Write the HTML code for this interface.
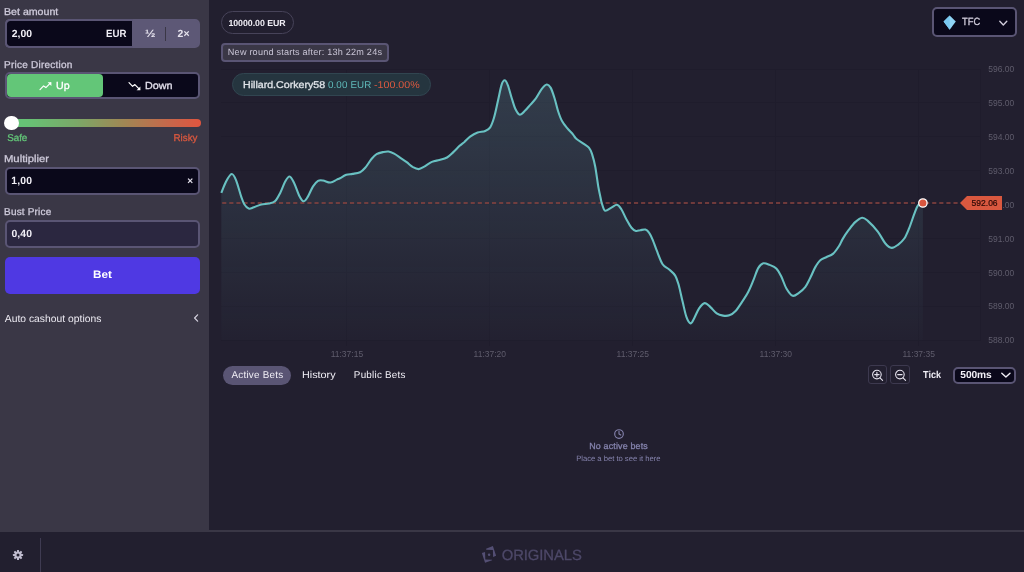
<!DOCTYPE html>
<html><head><meta charset="utf-8"><title>Originals</title>
<style>
*{box-sizing:border-box;margin:0;padding:0}
html,body{width:1024px;height:572px;overflow:hidden;background:#221f2f;font-family:"Liberation Sans",sans-serif;color:#fff}
.abs{position:absolute}
.t{position:absolute;white-space:nowrap;line-height:1;text-rendering:geometricPrecision}
.side{position:absolute;left:0;top:0;width:209px;height:532px;background:#3a3746}
.lbl{font-size:10.2px;color:#cfcbdb;font-weight:bold;letter-spacing:-0.15px}
.box{position:absolute;border:2px solid #5a5574;border-radius:5px;background:#0a081a}
.val{font-size:10.3px;font-weight:bold;color:#f1eff6}
.chart{position:absolute;left:0;top:0}
#wrap{position:absolute;left:0;top:0;width:1024px;height:572px;will-change:transform;filter:blur(0.35px)}
</style></head><body><div id="wrap">
<div class="side"></div>
<svg class="chart" width="1024" height="572" viewBox="0 0 1024 572">
<defs><linearGradient id="ag" x1="0" y1="69" x2="0" y2="340" gradientUnits="userSpaceOnUse">
<stop offset="0" stop-color="#78bec4" stop-opacity="0.2"/><stop offset="1" stop-color="#78bec4" stop-opacity="0.015"/></linearGradient></defs>
<g stroke="#1f1c2c" stroke-width="1" shape-rendering="crispEdges"><line x1="221" y1="69.0" x2="980.5" y2="69.0"/><line x1="221" y1="102.9" x2="980.5" y2="102.9"/><line x1="221" y1="136.8" x2="980.5" y2="136.8"/><line x1="221" y1="170.7" x2="980.5" y2="170.7"/><line x1="221" y1="204.6" x2="980.5" y2="204.6"/><line x1="221" y1="238.5" x2="980.5" y2="238.5"/><line x1="221" y1="272.4" x2="980.5" y2="272.4"/><line x1="221" y1="306.3" x2="980.5" y2="306.3"/><line x1="221" y1="340.2" x2="980.5" y2="340.2"/><line x1="346.9" y1="69" x2="346.9" y2="346"/><line x1="489.8" y1="69" x2="489.8" y2="346"/><line x1="632.8" y1="69" x2="632.8" y2="346"/><line x1="775.8" y1="69" x2="775.8" y2="346"/><line x1="918.7" y1="69" x2="918.7" y2="346"/><line x1="980.5" y1="69" x2="980.5" y2="340.2"/></g>
<path d="M221.3 192.9C222.1 191.0 224.4 184.7 226.1 181.5C227.8 178.3 230.0 174.2 231.7 174.0C233.4 173.8 234.5 176.5 236.1 180.3C237.7 184.1 239.8 192.6 241.2 196.6C242.6 200.6 243.1 202.2 244.3 204.2C245.6 206.2 247.1 208.1 248.7 208.6C250.3 209.1 251.7 208.0 253.8 207.3C255.9 206.6 258.8 205.0 261.3 204.4C263.8 203.8 266.6 204.2 268.9 203.6C271.2 203.0 273.3 202.8 275.2 201.0C277.1 199.2 278.5 196.2 280.2 192.9C281.9 189.7 283.6 184.2 285.2 181.5C286.8 178.8 288.1 176.3 289.6 176.5C291.1 176.7 292.4 179.7 294.0 182.8C295.6 186.0 297.5 192.3 299.1 195.4C300.7 198.5 302.0 201.1 303.5 201.3C305.0 201.5 306.3 199.1 307.9 196.6C309.5 194.1 311.2 189.2 312.9 186.6C314.6 184.0 316.3 181.9 318.0 180.9C319.7 179.9 320.9 180.2 323.0 180.5C325.1 180.8 328.2 182.7 330.5 182.5C332.8 182.3 335.2 180.3 336.8 179.6C338.4 178.9 338.4 179.0 340.0 178.2C341.6 177.4 344.2 175.5 346.3 174.8C348.4 174.1 350.3 174.3 352.6 173.9C354.9 173.5 358.0 173.2 360.1 172.2C362.2 171.2 363.3 170.0 365.2 167.8C367.1 165.6 369.6 161.3 371.5 159.0C373.4 156.7 374.6 155.3 376.5 154.2C378.4 153.0 380.8 152.5 382.8 152.1C384.8 151.7 386.6 151.2 388.5 151.5C390.4 151.8 392.1 152.6 394.1 153.7C396.1 154.8 398.3 156.4 400.4 157.8C402.5 159.2 404.6 160.6 406.7 162.2C408.8 163.8 411.0 166.0 413.0 167.2C415.0 168.3 416.8 169.2 418.7 169.1C420.6 169.0 422.1 167.8 424.3 166.6C426.5 165.4 429.4 163.0 431.9 161.9C434.4 160.8 436.9 160.7 439.4 160.0C441.9 159.3 444.7 158.8 447.0 157.5C449.3 156.2 451.2 154.0 453.3 152.1C455.4 150.2 457.8 147.5 459.6 145.8C461.5 144.1 462.6 143.5 464.4 142.0C466.1 140.5 467.9 138.3 470.1 136.7C472.3 135.1 475.1 133.5 477.6 132.6C480.1 131.7 483.1 131.9 485.2 131.0C487.3 130.1 488.7 129.5 490.2 127.3C491.7 125.1 492.7 122.1 494.0 117.8C495.3 113.5 496.6 107.0 497.8 101.5C499.1 96.0 500.4 88.6 501.5 85.1C502.6 81.6 503.6 80.3 504.7 80.3C505.8 80.3 506.6 82.2 507.8 85.1C509.0 88.0 510.3 93.7 511.6 97.7C512.9 101.7 514.0 106.2 515.4 109.0C516.8 111.8 518.1 114.5 519.8 114.7C521.5 114.9 523.6 112.0 525.4 110.3C527.2 108.6 528.8 106.5 530.5 104.6C532.2 102.7 533.6 101.5 535.5 98.9C537.4 96.3 539.9 91.3 541.8 88.9C543.7 86.5 545.3 84.7 546.8 84.5C548.3 84.3 549.3 85.4 550.6 87.6C551.9 89.8 553.1 93.7 554.4 97.7C555.7 101.7 556.9 107.6 558.2 111.5C559.5 115.4 560.5 118.3 562.0 121.0C563.5 123.7 565.1 125.6 567.0 127.9C568.9 130.2 571.8 133.0 573.3 134.8C574.8 136.6 574.5 137.3 576.3 138.8C578.0 140.3 581.7 142.3 583.8 143.8C585.9 145.3 587.5 145.9 588.9 147.6C590.3 149.3 591.0 150.8 592.0 153.9C593.0 157.1 594.2 161.1 595.2 166.5C596.2 171.9 597.4 181.4 598.3 186.6C599.2 191.8 599.9 194.6 600.5 197.5C601.1 200.4 601.2 201.6 602.0 203.8C602.8 206.0 603.5 210.1 605.1 210.7C606.7 211.3 609.4 208.6 611.4 207.6C613.4 206.6 615.4 204.5 617.1 204.8C618.8 205.1 619.9 207.1 621.5 209.5C623.1 211.9 624.8 216.5 626.5 219.5C628.2 222.5 629.9 225.8 631.5 227.7C633.1 229.6 634.4 230.5 635.9 230.9C637.4 231.3 638.7 230.4 640.3 230.2C641.9 230.0 643.9 229.2 645.4 229.6C646.9 230.0 648.0 231.0 649.2 232.8C650.5 234.6 651.6 237.4 652.9 240.3C654.1 243.2 655.1 246.4 656.7 250.4C658.3 254.4 660.6 261.2 662.6 264.3C664.6 267.4 666.8 267.4 668.9 269.3C671.0 271.2 673.5 272.9 675.2 275.6C676.9 278.3 677.6 281.3 678.9 285.7C680.1 290.1 681.4 296.9 682.7 302.1C684.0 307.4 685.2 313.6 686.5 317.2C687.8 320.8 689.2 323.2 690.5 323.4C691.8 323.6 692.7 320.9 694.1 318.4C695.5 315.9 697.3 310.9 699.1 308.3C700.9 305.8 702.9 303.3 704.8 303.1C706.7 302.9 708.4 305.4 710.4 307.1C712.4 308.8 714.6 312.0 716.7 313.4C718.8 314.8 720.9 315.3 723.0 315.6C725.1 315.9 727.2 316.1 729.3 315.3C731.4 314.5 733.5 313.1 735.6 310.9C737.7 308.7 739.8 305.2 741.9 302.1C744.0 299.0 746.3 295.6 748.2 292.0C750.1 288.4 751.5 284.7 753.2 280.7C754.9 276.7 756.5 271.0 758.2 268.1C759.9 265.2 761.4 263.8 763.3 263.3C765.2 262.8 767.4 264.0 769.6 264.9C771.8 265.8 774.3 266.5 776.3 268.4C778.2 270.3 779.6 273.1 781.3 276.5C783.0 279.9 784.5 285.3 786.4 288.5C788.3 291.7 790.6 295.1 792.7 295.8C794.8 296.5 796.8 294.3 798.9 292.9C801.0 291.5 803.3 289.7 805.2 287.2C807.1 284.7 808.6 281.1 810.3 277.8C812.0 274.5 813.6 270.0 815.3 267.1C817.0 264.2 818.4 261.9 820.3 260.2C822.2 258.5 824.5 258.1 826.6 257.0C828.7 255.9 830.8 255.8 832.9 253.9C835.0 252.0 837.6 248.2 839.2 245.7C840.8 243.2 841.0 241.8 842.6 239.1C844.2 236.4 846.8 232.5 848.9 229.7C851.0 226.9 853.0 224.1 855.2 222.1C857.4 220.1 860.0 217.9 862.1 217.7C864.2 217.5 865.2 218.6 867.8 220.9C870.4 223.2 874.9 227.8 877.8 231.6C880.7 235.4 883.1 240.8 885.4 243.5C887.7 246.2 889.6 247.7 891.7 247.9C893.8 248.1 895.9 246.4 898.0 244.8C900.1 243.2 902.4 241.3 904.3 238.5C906.2 235.7 907.6 231.9 909.3 227.8C911.0 223.7 912.8 217.7 914.3 213.9C915.8 210.1 916.7 206.9 918.1 205.1C919.5 203.3 922.1 203.3 922.9 203.0L922.9 340.2L221.3 340.2Z" fill="url(#ag)"/>
<g font-family="'Liberation Sans',sans-serif" font-size="8.5" fill="#5f5c6c"><text x="988.3" y="72.1">596.00</text><text x="988.3" y="106.0">595.00</text><text x="988.3" y="139.9">594.00</text><text x="988.3" y="173.8">593.00</text><text x="988.3" y="207.7">592.00</text><text x="988.3" y="241.6">591.00</text><text x="988.3" y="275.5">590.00</text><text x="988.3" y="309.4">589.00</text><text x="988.3" y="343.3">588.00</text><text x="346.9" y="356.5" text-anchor="middle">11:37:15</text><text x="489.8" y="356.5" text-anchor="middle">11:37:20</text><text x="632.8" y="356.5" text-anchor="middle">11:37:25</text><text x="775.8" y="356.5" text-anchor="middle">11:37:30</text><text x="918.7" y="356.5" text-anchor="middle">11:37:35</text></g>
<line x1="222.2" y1="203" x2="958.5" y2="203" stroke="#8a4440" stroke-width="1.7" stroke-dasharray="4.1 3"/>
<path d="M221.3 192.9C222.1 191.0 224.4 184.7 226.1 181.5C227.8 178.3 230.0 174.2 231.7 174.0C233.4 173.8 234.5 176.5 236.1 180.3C237.7 184.1 239.8 192.6 241.2 196.6C242.6 200.6 243.1 202.2 244.3 204.2C245.6 206.2 247.1 208.1 248.7 208.6C250.3 209.1 251.7 208.0 253.8 207.3C255.9 206.6 258.8 205.0 261.3 204.4C263.8 203.8 266.6 204.2 268.9 203.6C271.2 203.0 273.3 202.8 275.2 201.0C277.1 199.2 278.5 196.2 280.2 192.9C281.9 189.7 283.6 184.2 285.2 181.5C286.8 178.8 288.1 176.3 289.6 176.5C291.1 176.7 292.4 179.7 294.0 182.8C295.6 186.0 297.5 192.3 299.1 195.4C300.7 198.5 302.0 201.1 303.5 201.3C305.0 201.5 306.3 199.1 307.9 196.6C309.5 194.1 311.2 189.2 312.9 186.6C314.6 184.0 316.3 181.9 318.0 180.9C319.7 179.9 320.9 180.2 323.0 180.5C325.1 180.8 328.2 182.7 330.5 182.5C332.8 182.3 335.2 180.3 336.8 179.6C338.4 178.9 338.4 179.0 340.0 178.2C341.6 177.4 344.2 175.5 346.3 174.8C348.4 174.1 350.3 174.3 352.6 173.9C354.9 173.5 358.0 173.2 360.1 172.2C362.2 171.2 363.3 170.0 365.2 167.8C367.1 165.6 369.6 161.3 371.5 159.0C373.4 156.7 374.6 155.3 376.5 154.2C378.4 153.0 380.8 152.5 382.8 152.1C384.8 151.7 386.6 151.2 388.5 151.5C390.4 151.8 392.1 152.6 394.1 153.7C396.1 154.8 398.3 156.4 400.4 157.8C402.5 159.2 404.6 160.6 406.7 162.2C408.8 163.8 411.0 166.0 413.0 167.2C415.0 168.3 416.8 169.2 418.7 169.1C420.6 169.0 422.1 167.8 424.3 166.6C426.5 165.4 429.4 163.0 431.9 161.9C434.4 160.8 436.9 160.7 439.4 160.0C441.9 159.3 444.7 158.8 447.0 157.5C449.3 156.2 451.2 154.0 453.3 152.1C455.4 150.2 457.8 147.5 459.6 145.8C461.5 144.1 462.6 143.5 464.4 142.0C466.1 140.5 467.9 138.3 470.1 136.7C472.3 135.1 475.1 133.5 477.6 132.6C480.1 131.7 483.1 131.9 485.2 131.0C487.3 130.1 488.7 129.5 490.2 127.3C491.7 125.1 492.7 122.1 494.0 117.8C495.3 113.5 496.6 107.0 497.8 101.5C499.1 96.0 500.4 88.6 501.5 85.1C502.6 81.6 503.6 80.3 504.7 80.3C505.8 80.3 506.6 82.2 507.8 85.1C509.0 88.0 510.3 93.7 511.6 97.7C512.9 101.7 514.0 106.2 515.4 109.0C516.8 111.8 518.1 114.5 519.8 114.7C521.5 114.9 523.6 112.0 525.4 110.3C527.2 108.6 528.8 106.5 530.5 104.6C532.2 102.7 533.6 101.5 535.5 98.9C537.4 96.3 539.9 91.3 541.8 88.9C543.7 86.5 545.3 84.7 546.8 84.5C548.3 84.3 549.3 85.4 550.6 87.6C551.9 89.8 553.1 93.7 554.4 97.7C555.7 101.7 556.9 107.6 558.2 111.5C559.5 115.4 560.5 118.3 562.0 121.0C563.5 123.7 565.1 125.6 567.0 127.9C568.9 130.2 571.8 133.0 573.3 134.8C574.8 136.6 574.5 137.3 576.3 138.8C578.0 140.3 581.7 142.3 583.8 143.8C585.9 145.3 587.5 145.9 588.9 147.6C590.3 149.3 591.0 150.8 592.0 153.9C593.0 157.1 594.2 161.1 595.2 166.5C596.2 171.9 597.4 181.4 598.3 186.6C599.2 191.8 599.9 194.6 600.5 197.5C601.1 200.4 601.2 201.6 602.0 203.8C602.8 206.0 603.5 210.1 605.1 210.7C606.7 211.3 609.4 208.6 611.4 207.6C613.4 206.6 615.4 204.5 617.1 204.8C618.8 205.1 619.9 207.1 621.5 209.5C623.1 211.9 624.8 216.5 626.5 219.5C628.2 222.5 629.9 225.8 631.5 227.7C633.1 229.6 634.4 230.5 635.9 230.9C637.4 231.3 638.7 230.4 640.3 230.2C641.9 230.0 643.9 229.2 645.4 229.6C646.9 230.0 648.0 231.0 649.2 232.8C650.5 234.6 651.6 237.4 652.9 240.3C654.1 243.2 655.1 246.4 656.7 250.4C658.3 254.4 660.6 261.2 662.6 264.3C664.6 267.4 666.8 267.4 668.9 269.3C671.0 271.2 673.5 272.9 675.2 275.6C676.9 278.3 677.6 281.3 678.9 285.7C680.1 290.1 681.4 296.9 682.7 302.1C684.0 307.4 685.2 313.6 686.5 317.2C687.8 320.8 689.2 323.2 690.5 323.4C691.8 323.6 692.7 320.9 694.1 318.4C695.5 315.9 697.3 310.9 699.1 308.3C700.9 305.8 702.9 303.3 704.8 303.1C706.7 302.9 708.4 305.4 710.4 307.1C712.4 308.8 714.6 312.0 716.7 313.4C718.8 314.8 720.9 315.3 723.0 315.6C725.1 315.9 727.2 316.1 729.3 315.3C731.4 314.5 733.5 313.1 735.6 310.9C737.7 308.7 739.8 305.2 741.9 302.1C744.0 299.0 746.3 295.6 748.2 292.0C750.1 288.4 751.5 284.7 753.2 280.7C754.9 276.7 756.5 271.0 758.2 268.1C759.9 265.2 761.4 263.8 763.3 263.3C765.2 262.8 767.4 264.0 769.6 264.9C771.8 265.8 774.3 266.5 776.3 268.4C778.2 270.3 779.6 273.1 781.3 276.5C783.0 279.9 784.5 285.3 786.4 288.5C788.3 291.7 790.6 295.1 792.7 295.8C794.8 296.5 796.8 294.3 798.9 292.9C801.0 291.5 803.3 289.7 805.2 287.2C807.1 284.7 808.6 281.1 810.3 277.8C812.0 274.5 813.6 270.0 815.3 267.1C817.0 264.2 818.4 261.9 820.3 260.2C822.2 258.5 824.5 258.1 826.6 257.0C828.7 255.9 830.8 255.8 832.9 253.9C835.0 252.0 837.6 248.2 839.2 245.7C840.8 243.2 841.0 241.8 842.6 239.1C844.2 236.4 846.8 232.5 848.9 229.7C851.0 226.9 853.0 224.1 855.2 222.1C857.4 220.1 860.0 217.9 862.1 217.7C864.2 217.5 865.2 218.6 867.8 220.9C870.4 223.2 874.9 227.8 877.8 231.6C880.7 235.4 883.1 240.8 885.4 243.5C887.7 246.2 889.6 247.7 891.7 247.9C893.8 248.1 895.9 246.4 898.0 244.8C900.1 243.2 902.4 241.3 904.3 238.5C906.2 235.7 907.6 231.9 909.3 227.8C911.0 223.7 912.8 217.7 914.3 213.9C915.8 210.1 916.7 206.9 918.1 205.1C919.5 203.3 922.1 203.3 922.9 203.0" fill="none" stroke="#69c1c2" stroke-width="2.1" stroke-linejoin="round" stroke-linecap="butt"/>
<circle cx="922.9" cy="203" r="4.2" fill="#d9563f" stroke="#fff" stroke-width="1.3"/>
<path d="M960 203L967 196H1002V210H967Z" fill="#d9583f"/>
<text x="971.6" y="206.1" font-family="'Liberation Sans',sans-serif" font-size="8.5" fill="#2c0906" stroke="#2c0906" stroke-width="0.2">592.06</text>
</svg>

<!-- sidebar -->
<div class="t" style="left:4.05px;top:7.65px;font-size:10.0px;font-weight:normal;color:#cfcbdb;-webkit-text-stroke:0.3px #cfcbdb;transform-origin:0 0;transform:scaleX(1.0614)">Bet amount</div>
<div class="box" style="left:5px;top:19.3px;width:195.2px;height:29px;background:#5d5876;border-color:#5d5876"></div>
<div class="abs" style="left:7px;top:21.3px;width:125px;height:25px;background:#0a081a;border-radius:3px 0 0 3px"></div>
<div class="abs" style="left:5px;top:19.3px;width:128px;height:29px;border:2px solid #5a5574;border-right:none;border-radius:5px 0 0 5px"></div>
<div class="t" style="left:11.75px;top:30.31px;font-size:10.4px;font-weight:bold;color:#f1eff6">2,00</div>
<div class="t" style="left:105.95px;top:30.31px;font-size:10.4px;font-weight:bold;color:#f1eff6;transform-origin:0 0;transform:scaleX(0.9287)">EUR</div>
<div class="t" style="left:144.6px;top:29.14px;font-size:10.6px;font-weight:bold;color:#e6e3ee;transform-origin:0 0;transform:scaleX(1.1883)">½</div>
<div class="abs" style="left:164.6px;top:27px;width:1.3px;height:14px;background:#3a3746"></div>
<div class="t" style="left:177.55px;top:30.31px;font-size:10.4px;font-weight:bold;color:#e6e3ee;letter-spacing:0.05px">2×</div>

<div class="t" style="left:4.05px;top:60.55px;font-size:10.0px;font-weight:normal;color:#cfcbdb;-webkit-text-stroke:0.3px #cfcbdb;letter-spacing:0.229px">Price Direction</div>
<div class="box" style="left:5px;top:72px;width:195.3px;height:27px"></div>
<div class="abs" style="left:6.5px;top:74px;width:96.3px;height:23px;background:#63c678;border-radius:4px"></div>
<svg class="abs" style="left:38.5px;top:80.5px" width="14" height="11" viewBox="0 0 14 11"><path d="M1 8.6L4.6 4.9L6.9 6.6L11.6 1.9" fill="none" stroke="#fff" stroke-width="1.2" stroke-linecap="round" stroke-linejoin="round"/><path d="M8.6 1.3H12.4V5.1Z" fill="#fff"/></svg>
<div class="t" style="left:55.85px;top:82.08px;font-size:10.2px;font-weight:normal;color:#ffffff;-webkit-text-stroke:0.3px #ffffff;transform-origin:0 0;transform:scaleX(1.0459)">Up</div>
<svg class="abs" style="left:127.5px;top:80.5px" width="14" height="11" viewBox="0 0 14 11"><path d="M1 1.6L4.6 5.3L6.9 3.6L11.6 8.3" fill="none" stroke="#fff" stroke-width="1.2" stroke-linecap="round" stroke-linejoin="round"/><path d="M8.6 9.2H12.4V5.4Z" fill="#fff"/></svg>
<div class="t" style="left:144.95px;top:82.08px;font-size:10.2px;font-weight:normal;color:#e2dfeb;-webkit-text-stroke:0.3px #e2dfeb;transform-origin:0 0;transform:scaleX(1.0586)">Down</div>

<div class="abs" style="left:8px;top:119.2px;width:192.7px;height:8.3px;border-radius:4.2px;background:linear-gradient(90deg,#63c678 0%,#68c074 12%,#7aa868 35%,#a08754 60%,#c9654a 85%,#e0553f 100%)"></div>
<div class="abs" style="left:4.4px;top:115.8px;width:14.6px;height:14.6px;border-radius:50%;background:#fff"></div>
<div class="t" style="left:7.35px;top:133.72px;font-size:9.8px;font-weight:normal;color:#63c678;-webkit-text-stroke:0.3px #63c678;letter-spacing:-0.083px">Safe</div>
<div class="t" style="left:173.5px;top:133.72px;font-size:9.8px;font-weight:normal;color:#d9583f;-webkit-text-stroke:0.3px #d9583f">Risky</div>

<div class="t" style="left:4.05px;top:154.95px;font-size:10.0px;font-weight:normal;color:#cfcbdb;-webkit-text-stroke:0.3px #cfcbdb;transform-origin:0 0;transform:scaleX(1.1249)">Multiplier</div>
<div class="box" style="left:5px;top:166.8px;width:195.3px;height:28.5px"></div>
<div class="t" style="left:11.25px;top:177.11px;font-size:10.4px;font-weight:bold;color:#f1eff6;letter-spacing:0.167px">1,00</div>
<div class="t" style="left:187.3px;top:176.6px;font-size:10px;font-weight:bold;color:#e6e3ee">×</div>

<div class="t" style="left:4.05px;top:208.35px;font-size:10.0px;font-weight:normal;color:#cfcbdb;-webkit-text-stroke:0.3px #cfcbdb;letter-spacing:0.178px">Bust Price</div>
<div class="box" style="left:5px;top:219.5px;width:195.3px;height:28.3px;background:#2b2740"></div>
<div class="t" style="left:11.5px;top:230.01px;font-size:10.4px;font-weight:bold;color:#f1eff6;letter-spacing:0.083px">0,40</div>

<div class="abs" style="left:4.8px;top:256.5px;width:195.7px;height:37px;border-radius:5px;background:#4f39e3"></div>
<div class="t" style="left:93.05px;top:270.29px;font-size:10.9px;font-weight:bold;color:#ffffff;transform-origin:0 0;transform:scaleX(1.0746)">Bet</div>

<div class="t" style="left:4.8px;top:315.3px;font-size:10.3px;font-weight:normal;color:#eceaf2;letter-spacing:0.021px">Auto cashout options</div>
<svg class="abs" style="left:192px;top:313px" width="8" height="10" viewBox="0 0 8 10"><path d="M5.6 1.8L2.6 5L5.6 8.2" fill="none" stroke="#d6d3e0" stroke-width="1.2" stroke-linecap="round" stroke-linejoin="round"/></svg>

<!-- main top -->
<div class="abs" style="left:220.7px;top:11px;width:73px;height:22.7px;border:1px solid #474359;border-radius:12px"></div>
<div class="t" style="left:228.4px;top:19.16px;font-size:8.8px;font-weight:bold;color:#f1eff6;letter-spacing:-0.041px">10000.00 EUR</div>
<div class="abs" style="left:221px;top:43.2px;width:168px;height:18.6px;border:2px solid #5a5574;border-radius:4px;background:#3a3746"></div>
<div class="t" style="left:227.85px;top:48.31px;font-size:9.1px;font-weight:normal;color:#c9c5d6;letter-spacing:0.206px">New round starts after: 13h 22m 24s</div>
<div class="abs" style="left:232px;top:73.4px;width:199.4px;height:22.5px;border:1px solid #314550;border-radius:12px;background:#25353f"></div>
<div class="t" style="left:242.85px;top:80.92px;font-size:9.8px;font-weight:normal;color:#dfe3e8;-webkit-text-stroke:0.3px #dfe3e8;transform-origin:0 0;transform:scaleX(1.085)">Hillard.Corkery58</div><div class="t" style="left:327.9px;top:80.92px;font-size:9.8px;font-weight:normal;color:#5fb9b9;letter-spacing:0.143px">0.00 EUR</div><div class="t" style="left:374.1px;top:80.92px;font-size:9.8px;font-weight:normal;color:#d9583f;transform-origin:0 0;transform:scaleX(1.0909)">-100.00%</div>

<!-- TFC select -->
<div class="box" style="left:931.6px;top:7px;width:85.2px;height:30.2px"></div>
<svg class="abs" style="left:942.5px;top:14.5px" width="14" height="15" viewBox="0 0 14 15"><path d="M6.7 0.4L12.8 6.4L6.7 14.7L0.6 6.4Z" fill="#8fd4f5"/><path d="M6.7 0.4L0.6 6.4L6.7 14.7Z" fill="#79c8f0"/></svg>
<div class="t" style="left:962.2px;top:17.51px;font-size:10.4px;font-weight:normal;color:#d0ccda;-webkit-text-stroke:0.3px #d0ccda;transform-origin:0 0;transform:scaleX(0.9025)">TFC</div>
<svg class="abs" style="left:998px;top:19px" width="11" height="8" viewBox="0 0 11 8"><path d="M1.8 2.2L5.3 5.9L8.8 2.2" fill="none" stroke="#d0ccda" stroke-width="1.4" stroke-linecap="round" stroke-linejoin="round"/></svg>

<!-- tabs -->
<div class="abs" style="left:222.6px;top:365.6px;width:68.6px;height:19.1px;border-radius:10px;background:#5a5574"></div>
<div class="t" style="left:231.4px;top:370.63px;font-size:9.9px;font-weight:normal;color:#f1eff6;letter-spacing:0.245px">Active Bets</div>
<div class="t" style="left:301.5px;top:370.63px;font-size:9.9px;font-weight:normal;color:#f1eff6;transform-origin:0 0;transform:scaleX(1.0917)">History</div>
<div class="t" style="left:353.85px;top:370.63px;font-size:9.9px;font-weight:normal;color:#f1eff6;letter-spacing:0.225px">Public Bets</div>

<!-- zoom + tick -->
<div class="abs" style="left:867.5px;top:364.9px;width:19.7px;height:19.6px;border:1px solid #3d394f;border-radius:3px"></div>
<div class="abs" style="left:890.4px;top:364.9px;width:19.7px;height:19.6px;border:1px solid #3d394f;border-radius:3px"></div>
<svg class="abs" style="left:871px;top:368.5px" width="13" height="13" viewBox="0 0 13 13"><circle cx="5.9" cy="5.6" r="4.3" fill="none" stroke="#e6e3ee" stroke-width="1.1"/><path d="M9 8.8L11.6 11.4M3.7 5.6H8.1M5.9 3.4V7.8" stroke="#e6e3ee" stroke-width="1.1" stroke-linecap="round"/></svg>
<svg class="abs" style="left:893.9px;top:368.5px" width="13" height="13" viewBox="0 0 13 13"><circle cx="5.9" cy="5.6" r="4.3" fill="none" stroke="#e6e3ee" stroke-width="1.1"/><path d="M9 8.8L11.6 11.4M3.7 5.6H8.1" stroke="#e6e3ee" stroke-width="1.1" stroke-linecap="round"/></svg>
<div class="t" style="left:922.5px;top:370.68px;font-size:10.2px;font-weight:bold;color:#f1eff6;transform-origin:0 0;transform:scaleX(0.8914)">Tick</div>
<div class="box" style="left:952.9px;top:366.5px;width:63.4px;height:17.2px"></div>
<div class="t" style="left:960.35px;top:370.68px;font-size:10.2px;font-weight:bold;color:#f1eff6;letter-spacing:-0.1px">500ms</div>
<svg class="abs" style="left:999.5px;top:371px" width="12" height="8" viewBox="0 0 12 8"><path d="M1.8 2.3L5.9 6L10 2.3" fill="none" stroke="#f1eff6" stroke-width="1.4" stroke-linecap="round" stroke-linejoin="round"/></svg>

<!-- empty state -->
<svg class="abs" style="left:612.5px;top:428px" width="12" height="12" viewBox="0 0 12 12"><circle cx="6" cy="6" r="4.3" fill="none" stroke="#8583ad" stroke-width="1.15"/><path d="M6 3.3V6.1L7.8 7.1" fill="none" stroke="#8583ad" stroke-width="1.1" stroke-linecap="round" stroke-linejoin="round"/></svg>
<div class="t" style="left:589.25px;top:442.48px;font-size:8.9px;font-weight:normal;color:#8583ad;-webkit-text-stroke:0.3px #8583ad;letter-spacing:0.173px">No active bets</div>
<div class="t" style="left:576.15px;top:455.39px;font-size:7.7px;font-weight:normal;color:#8583ad;letter-spacing:-0.028px">Place a bet to see it here</div>

<!-- footer -->
<div class="abs" style="left:209px;top:530px;width:815px;height:2px;background:#3a3746"></div>
<svg class="abs" style="left:12px;top:548.5px" width="12" height="12" viewBox="0 0 12 12"><g fill="#c0bccf"><circle cx="6" cy="6" r="3.6"/><g id="tt"><rect x="5" y="0.9" width="2" height="10.2" rx="0.4"/></g><rect x="5" y="0.9" width="2" height="10.2" rx="0.4" transform="rotate(45 6 6)"/><rect x="5" y="0.9" width="2" height="10.2" rx="0.4" transform="rotate(90 6 6)"/><rect x="5" y="0.9" width="2" height="10.2" rx="0.4" transform="rotate(135 6 6)"/></g><circle cx="6" cy="6" r="1.5" fill="#221f2f"/></svg>
<div class="abs" style="left:39.8px;top:537.8px;width:1px;height:34.2px;background:#3f3b52"></div>
<svg class="abs" style="left:481px;top:545px" width="17" height="19" viewBox="0 0 17 19"><g fill="#544f74"><polygon points="5.00,3.80 11.90,1.10 15.10,10.70 12.10,12.10 11.90,5.00 5.30,4.80"/><polygon points="0.87,7.96 4.05,6.99 4.30,14.57 11.14,14.81 11.14,15.30 4.05,17.75"/><circle cx="8.10" cy="9.68" r="1.25"/></g></svg>
<div class="t" style="left:501.75px;top:549.24px;font-size:14.8px;font-weight:normal;color:#4d4868;-webkit-text-stroke:0.3px #4d4868;letter-spacing:-0.062px">ORIGINALS</div>
</div></body></html>
